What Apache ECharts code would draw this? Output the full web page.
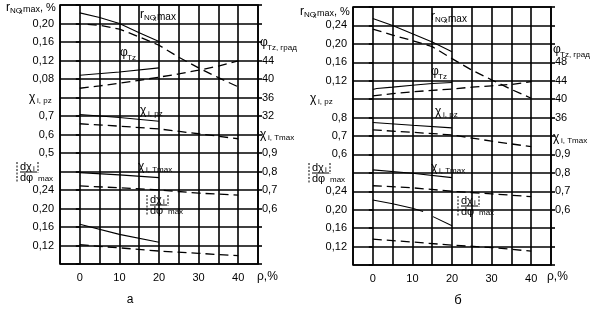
<!DOCTYPE html>
<html><head><meta charset="utf-8">
<script src="https://cdn.jsdelivr.net/npm/echarts@6/dist/echarts.min.js"></script>
<style>html,body{margin:0;padding:0;background:#fff}#c{width:604px;height:310px}</style>
</head><body><div id="c"></div>
<script>
// ---------- tick labels ----------
const xTicks = [0, 10, 20, 30, 40];
const a_rNOxTicks = [0.08, 0.12, 0.16, 0.20];
const a_chiPzTicks = [0.5, 0.6, 0.7];
const a_dchiTicks = [0.12, 0.16, 0.20, 0.24];
const a_phiTicks = [32, 36, 40, 44];
const a_chiTmaxTicks = [0.6, 0.7, 0.8, 0.9];
const b_rNOxTicks = [0.12, 0.16, 0.20, 0.24];
const b_chiPzTicks = [0.6, 0.7, 0.8];
const b_dchiTicks = [0.12, 0.16, 0.20, 0.24];
const b_phiTicks = [36, 40, 44, 48];
const b_chiTmaxTicks = [0.6, 0.7, 0.8, 0.9];

// ---------- panel а data (x = ρ, %) ----------
const a_rNOx_solid_x = [0, 5, 10, 15, 20];
const a_rNOx_solid = [0.223, 0.213, 0.200, 0.180, 0.161];
const a_rNOx_dash_x = [2, 5, 10, 15, 20, 25, 30, 35, 40];
const a_rNOx_dash = [0.198, 0.196, 0.188, 0.171, 0.153, 0.127, 0.104, 0.083, 0.063];
const a_phi_solid_x = [0, 10, 20];
const a_phi_solid = [40.8, 41.5, 42.4];
const a_phi_dash_x = [0, 5, 10, 15, 20, 25, 30, 35, 40];
const a_phi_dash = [38.0, 38.5, 39.1, 39.7, 40.4, 41.1, 41.9, 42.8, 43.9];
const a_chiPz_solid_x = [0, 10, 20];
const a_chiPz_solid = [0.708, 0.692, 0.672];
const a_chiPz_dash_x = [0, 10, 20, 30, 40];
const a_chiPz_dash = [0.658, 0.645, 0.630, 0.604, 0.577];
const a_chiTmax_solid_x = [0, 10, 20];
const a_chiTmax_solid = [0.794, 0.782, 0.767];
const a_chiTmax_dash_x = [0, 10, 20, 30, 40];
const a_chiTmax_dash = [0.722, 0.712, 0.700, 0.683, 0.672];
const a_dchi_solid_x = [0, 10, 20];
const a_dchi_solid = [0.166, 0.144, 0.127];
const a_dchi_dash_x = [0, 5, 10, 20, 30, 40];
const a_dchi_dash = [0.122, 0.118, 0.115, 0.108, 0.103, 0.098];

// ---------- panel б data ----------
const b_rNOx_solid_x = [0, 5, 10, 15, 20];
const b_rNOx_solid = [0.255, 0.240, 0.222, 0.204, 0.183];
const b_rNOx_dash_x = [0, 5, 10, 15, 20, 25, 30, 35, 40];
const b_rNOx_dash = [0.232, 0.219, 0.207, 0.194, 0.168, 0.143, 0.122, 0.101, 0.082];
const b_phi_solid_x = [0, 1, 5, 10, 15, 20];
const b_phi_solid = [42.1, 42.3, 42.6, 43.0, 43.4, 43.6];
const b_phi_dash_x = [0, 5, 10, 15, 20, 25, 30, 35, 40];
const b_phi_dash = [40.7, 41.2, 41.6, 41.9, 42.2, 42.6, 42.9, 43.2, 43.8];
const b_chiPz_solid_x = [0, 10, 20];
const b_chiPz_solid = [0.773, 0.758, 0.744];
const b_chiPz_dash_x = [0, 10, 20, 30, 40];
const b_chiPz_dash = [0.733, 0.720, 0.706, 0.672, 0.642];
const b_chiTmax_solid_x = [0, 10, 20];
const b_chiTmax_solid = [0.816, 0.798, 0.774];
const b_chiTmax_dash_x = [0, 10, 20, 30, 40];
const b_chiTmax_dash = [0.730, 0.719, 0.700, 0.686, 0.671];
const b_dchi_solid1_x = [0, 5, 10, 12.7];
const b_dchi_solid1 = [0.221, 0.213, 0.203, 0.196];
const b_dchi_solid2_x = [15.2, 20];
const b_dchi_solid2 = [0.185, 0.165];
const b_dchi_dash_x = [0, 10, 20, 30, 40];
const b_dchi_dash = [0.136, 0.130, 0.123, 0.118, 0.110];

const FF = '"Liberation Sans", Arial, sans-serif';
const GW = 1.6;

function xax(g) {
  return {type: 'value', gridIndex: g, min: -5, max: 45, interval: 5,
    axisLine: {show: false}, axisTick: {show: false},
    splitLine: {show: true, lineStyle: {color: '#000', width: GW}},
    axisLabel: {margin: 8, color: '#000', fontSize: 11, fontFamily: FF,
      formatter: v => xTicks.some(t => Math.abs(t - v) < 1e-6) ? String(Math.round(v)) : ''}};
}
function yax(g, pos, min, max, interval, ticks, dec, tick, split) {
  return {type: 'value', gridIndex: g, position: pos, min, max, interval,
    axisLine: {show: false},
    axisTick: {show: !!tick, length: 4, lineStyle: {color: '#000', width: GW}},
    splitLine: {show: !!split, lineStyle: {color: '#000', width: GW}},
    axisLabel: {margin: pos === 'left' ? 6 : 4, color: '#000', fontSize: 11, fontFamily: FF,
      formatter: v => ticks.some(t => Math.abs(t - v) < 1e-6) ? v.toFixed(dec).replace('.', ',') : ''}};
}
function ser(xs, ys, g, yi, dashed) {
  return {type: 'line', xAxisIndex: g, yAxisIndex: yi, data: xs.map((x, i) => [x, ys[i]]),
    symbol: 'none', silent: true, animation: false, z: 5,
    lineStyle: {color: '#000', width: dashed ? 1.3 : 1.1, type: dashed ? [9, 5] : 'solid'}};
}
function T(x, y, text, size, align) {
  return {type: 'text', x, y, silent: true, z: 10,
    style: {text, fontSize: size, fontFamily: FF, fill: '#000', align: align || 'left', verticalAlign: 'middle'}};
}
function L(x1, y1, x2, y2, dash) {
  return {type: 'line', silent: true, z: 10, shape: {x1, y1, x2, y2},
    style: {stroke: '#000', lineWidth: 1, lineDash: dash ? [2, 1.5] : null}};
}
function rLab(x, y, pct, maxSize) {
  const a = [T(x, y, 'r', 12), T(x + 4, y + 3, 'NO', 8), T(x + 13, y + 4, 'x', 7), T(x + 17, y + 2, 'max', maxSize)];
  if (pct) a.push(T(x + 34, y, ', %', 11));
  return a;
}
function phiLab(x, y, sub) { return [T(x, y, 'φ', 12), T(x + 7, y + 5, sub, 8)]; }
function chiLab(x, y, sub) { return [T(x, y, 'χ', 12), T(x + 8, y + 3, sub, 8)]; }
function frac(x0, y0) {
  return [L(x0, y0 - 10, x0, y0 + 11, true), T(x0 + 3, y0 - 5, 'dχ', 11), T(x0 + 16, y0 - 3, 'i', 8),
    L(x0 + 21, y0 - 10, x0 + 21, y0 + 1, true), L(x0 + 3, y0, x0 + 20, y0),
    T(x0 + 3, y0 + 6, 'dφ', 11), T(x0 + 21, y0 + 7, 'max', 8)];
}

const graphic = [].concat(
  // panel а
  rLab(6, 8, true, 9), chiLab(29, 98, 'i, pz'), frac(17, 172),
  phiLab(260, 43, 'Tz, град'), chiLab(260, 135, 'i, Tmax'),
  rLab(140, 15, false, 10), phiLab(120, 53, 'Tz'), chiLab(140, 111, 'i, pz'),
  chiLab(138, 167, 'i, Tmax'), frac(147, 205),
  [T(257, 277, 'ρ,%', 12), T(130, 300, 'а', 12, 'center')],
  // panel б
  rLab(300, 12, true, 9), chiLab(310, 99, 'i, pz'), frac(309, 173),
  phiLab(553, 50, 'Tz, град'), chiLab(553, 138, 'i, Tmax'),
  rLab(431, 17, false, 10), phiLab(431, 72, 'Tz'), chiLab(435, 112, 'i, pz'),
  chiLab(431, 168, 'i, Tmax'), frac(458, 206),
  [T(547, 277, 'ρ,%', 12), T(458, 300, 'б', 13, 'center')]
);

const option = {
  animation: false,
  backgroundColor: '#fff',
  grid: [
    {left: 60, top: 5, width: 198, height: 259, show: true, borderColor: '#000', borderWidth: 1.6},
    {left: 353, top: 7, width: 198, height: 258, show: true, borderColor: '#000', borderWidth: 1.6}
  ],
  xAxis: [xax(0), xax(1)],
  yAxis: [
    yax(0, 'left', -0.32, 0.24, 0.04, a_rNOxTicks, 2, true, true),
    yax(0, 'left', -0.1, 1.3, 0.1, a_chiPzTicks, 1),
    yax(0, 'left', 0.08, 0.64, 0.04, a_dchiTicks, 2),
    yax(0, 'right', 0, 56, 4, a_phiTicks, 0, true),
    yax(0, 'right', 0.3, 1.7, 0.1, a_chiTmaxTicks, 1),
    yax(1, 'left', -0.28, 0.28, 0.04, b_rNOxTicks, 2, true, true),
    yax(1, 'left', 0.0, 1.4, 0.1, b_chiPzTicks, 1),
    yax(1, 'left', 0.08, 0.64, 0.04, b_dchiTicks, 2),
    yax(1, 'right', 4, 60, 4, b_phiTicks, 0, true),
    yax(1, 'right', 0.3, 1.7, 0.1, b_chiTmaxTicks, 1)
  ],
  series: [
    ser(a_rNOx_solid_x, a_rNOx_solid, 0, 0, false),
    ser(a_rNOx_dash_x, a_rNOx_dash, 0, 0, true),
    ser(a_phi_solid_x, a_phi_solid, 0, 3, false),
    ser(a_phi_dash_x, a_phi_dash, 0, 3, true),
    ser(a_chiPz_solid_x, a_chiPz_solid, 0, 1, false),
    ser(a_chiPz_dash_x, a_chiPz_dash, 0, 1, true),
    ser(a_chiTmax_solid_x, a_chiTmax_solid, 0, 4, false),
    ser(a_chiTmax_dash_x, a_chiTmax_dash, 0, 4, true),
    ser(a_dchi_solid_x, a_dchi_solid, 0, 2, false),
    ser(a_dchi_dash_x, a_dchi_dash, 0, 2, true),
    ser(b_rNOx_solid_x, b_rNOx_solid, 1, 5, false),
    ser(b_rNOx_dash_x, b_rNOx_dash, 1, 5, true),
    ser(b_phi_solid_x, b_phi_solid, 1, 8, false),
    ser(b_phi_dash_x, b_phi_dash, 1, 8, true),
    ser(b_chiPz_solid_x, b_chiPz_solid, 1, 6, false),
    ser(b_chiPz_dash_x, b_chiPz_dash, 1, 6, true),
    ser(b_chiTmax_solid_x, b_chiTmax_solid, 1, 9, false),
    ser(b_chiTmax_dash_x, b_chiTmax_dash, 1, 9, true),
    ser(b_dchi_solid1_x, b_dchi_solid1, 1, 7, false),
    ser(b_dchi_solid2_x, b_dchi_solid2, 1, 7, false),
    ser(b_dchi_dash_x, b_dchi_dash, 1, 7, true)
  ],
  graphic: graphic
};
const chart = echarts.init(document.getElementById('c'), null, {renderer: 'canvas'});
chart.setOption(option);
</script></body></html>
